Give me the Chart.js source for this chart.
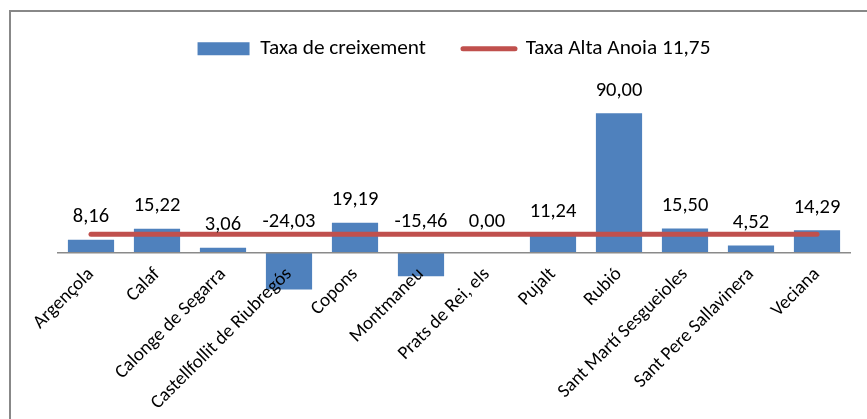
<!DOCTYPE html>
<html><head><meta charset="utf-8">
<script src="https://cdn.jsdelivr.net/npm/chart.js@4/dist/chart.umd.min.js"></script>
<style>
html,body{margin:0;padding:0;background:#fff;}
#wrap{position:relative;width:867px;height:419px;overflow:hidden;}
#frame{position:absolute;left:9px;top:10px;width:900px;height:500px;border:2px solid #888;box-sizing:border-box;pointer-events:none;}
canvas{position:absolute;left:0;top:0;}
</style></head><body>
<div id="wrap"><canvas id="c" width="867" height="419"></canvas><div id="frame"></div></div>
<script>
const categories = ['Argençola','Calaf','Calonge de Segarra','Castellfollit de Riubregós','Copons','Montmaneu','Prats de Rei, els','Pujalt','Rubió','Sant Martí Sesgueioles','Sant Pere Sallavinera','Veciana'];
const growthRates = [8.16, 15.22, 3.06, -24.03, 19.19, -15.46, 0.00, 11.24, 90.00, 15.50, 4.52, 14.29];
const averageRate = [11.75, 11.75, 11.75, 11.75, 11.75, 11.75, 11.75, 11.75, 11.75, 11.75, 11.75, 11.75];
const seriesNames = ['Taxa de creixement', 'Taxa Alta Anoia 11,75'];

const BLUE = '#4F81BD', RED = '#C0504D';
const FONT = 'Carlito, Lato, sans-serif';

const valueLabels = {
  id: 'valueLabels',
  afterDatasetsDraw(chart) {
    const meta = chart.getDatasetMeta(0);
    const zero = chart.scales.y.getPixelForValue(0);
    const ctx = chart.ctx;
    ctx.save();
    ctx.font = '20.5px ' + FONT;
    ctx.fillStyle = '#000';
    ctx.textAlign = 'center';
    ctx.textBaseline = 'alphabetic';
    meta.data.forEach((bar, i) => {
      const v = growthRates[i];
      const top = v > 0 ? bar.y : zero - 8;
      ctx.fillText(v.toFixed(2).replace('.', ','), bar.x, top - 17.5);
    });
    ctx.restore();
  }
};

new Chart(document.getElementById('c'), {
  type: 'bar',
  data: {
    labels: categories,
    datasets: [
      { type: 'bar', label: seriesNames[0], data: growthRates, backgroundColor: BLUE, borderWidth: 0,
        barPercentage: 0.7, categoryPercentage: 1.0, order: 1 },
      { type: 'line', label: seriesNames[1], data: averageRate, borderColor: RED, backgroundColor: RED,
        borderWidth: 5, borderCapStyle: 'round', pointRadius: 0, order: 0 }
    ]
  },
  options: {
    responsive: false,
    animation: false,
    layout: { padding: { top: 1, left: 58, right: 17, bottom: 12 } },
    plugins: {
      tooltip: { enabled: false },
      legend: {
        position: 'top',
        align: 'center',
        labels: {
          usePointStyle: true,
          pointStyleWidth: 52,
          boxHeight: 13,
          padding: 37,
          color: '#000',
          font: { family: FONT, size: 21.3 },
          sort: (a, b) => a.datasetIndex - b.datasetIndex,
          generateLabels(chart) {
            const items = Chart.defaults.plugins.legend.labels.generateLabels(chart);
            items.forEach(it => {
              if (it.datasetIndex === 0) {
                it.pointStyle = 'rect'; it.lineWidth = 0; it.strokeStyle = 'rgba(0,0,0,0)'; it.fillStyle = BLUE;
              } else {
                it.pointStyle = 'line'; it.lineWidth = 5; it.strokeStyle = RED; it.fillStyle = RED;
                it.lineCap = 'round'; it.lineJoin = 'round';
              }
            });
            return items;
          }
        }
      }
    },
    scales: {
      x: {
        position: { y: 0 },
        offset: true,
        grid: { display: false },
        border: { display: true, color: '#8a8a8a', width: 1.5, z: 1 },
        ticks: { z: 1, autoSkip: false, maxRotation: 45, minRotation: 45, padding: 3, color: '#000',
                 font: { family: FONT, size: 19 } }
      },
      y: { display: false, min: -100.1, max: 118.5 }
    }
  },
  plugins: [valueLabels]
});
</script>
</body></html>
